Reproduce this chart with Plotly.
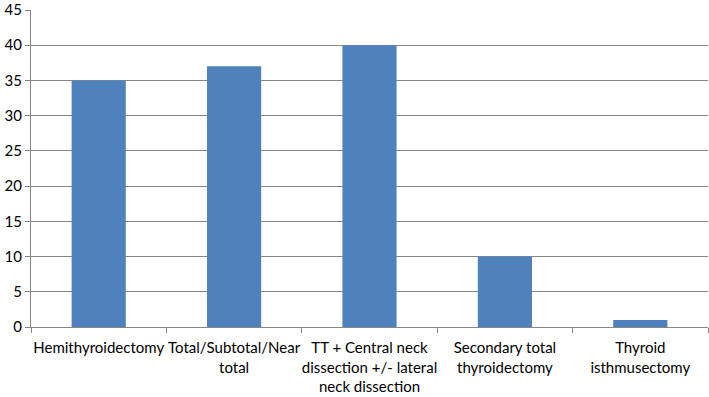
import plotly.graph_objects as go

categories = [
    "Hemithyroidectomy",
    "Total/Subtotal/Near<br>total",
    "TT + Central neck<br>dissection +/- lateral<br>neck dissection",
    "Secondary total<br>thyroidectomy",
    "Thyroid<br>isthmusectomy",
]
values = [35, 37, 40, 10, 1]
y_ticks = [0, 5, 10, 15, 20, 25, 30, 35, 40, 45]

fig = go.Figure(go.Bar(x=categories, y=values, marker_color="#4F81BD", marker_line_width=0))
fig.update_layout(
    width=709, height=397,
    margin=dict(l=31, r=1, t=10, b=70, autoexpand=False),
    paper_bgcolor="white", plot_bgcolor="white",
    bargap=0.6,
    showlegend=False,
    font=dict(family="Lato", size=15, color="#000000"),
)
fig.update_xaxes(
    type="category", showline=True, linecolor="#868686", linewidth=1,
    ticks="outside", tickson="boundaries", ticklen=5, tickcolor="#868686",
    showgrid=False, tickfont=dict(size=15), automargin=False, tickangle=0,
    ticklabelstandoff=7,
)
fig.update_yaxes(
    range=[0, 45], tickvals=y_ticks, showline=True, linecolor="#868686", linewidth=1,
    ticks="outside", ticklen=5, tickcolor="#868686",
    showgrid=True, gridcolor="#868686", gridwidth=1, zeroline=False,
    tickfont=dict(size=15), automargin=False,
)
fig.write_html("out.html", config={"displayModeBar": False},
               post_script="document.body.style.margin='0';")
